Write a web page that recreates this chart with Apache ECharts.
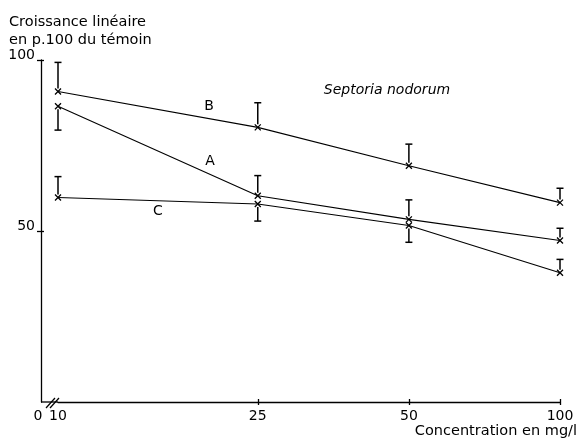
<!DOCTYPE html>
<html>
<head>
<meta charset="utf-8">
<script src="https://cdn.jsdelivr.net/npm/echarts@6/dist/echarts.min.js"></script>
<style>html,body{margin:0;padding:0;background:#fff}#c{width:579px;height:438px}</style>
</head>
<body>
<div id="c"></div>
<script>
// Data
var concentrations = [10, 25, 50, 100];
var xTickLabels = [10, 25, 50, 100];
var yTickLabels = [50, 100];
var seriesA = [86.5, 60.3, 53.4, 47.2];
var seriesB = [90.8, 80.3, 69.1, 58.3];
var seriesC = [59.8, 57.9, 51.6, 37.8];
// error bar end values (other end is the point itself)
var errA = [79.5, 66.2, 59.1, 50.8];
var errB = [99.3, 87.5, 75.4, 62.5];
var errC = [65.9, 52.9, 46.7, 41.7];

var FONT = 'DejaVu Sans';
var chart = echarts.init(document.getElementById('c'), null, {renderer: 'canvas'});

function pts(vals) { return concentrations.map(function (x, i) { return [x, vals[i]]; }); }
function errs(vals, ends) { return concentrations.map(function (x, i) { return [x, vals[i], ends[i]]; }); }

var cross = 'path://M0,0L10,10M10,0L0,10';

function lineSeries(name, vals) {
  return {
    name: name, type: 'line', data: pts(vals),
    symbol: cross, symbolSize: 6,
    itemStyle: {color: '#000', borderColor: '#000', borderWidth: 1.3},
    lineStyle: {color: '#000', width: 1.1},
    z: 3, animation: false
  };
}

function errSeries(vals, ends) {
  return {
    type: 'custom', data: errs(vals, ends), animation: false, z: 2,
    renderItem: function (params, api) {
      var p0 = api.coord([api.value(0), api.value(1)]);
      var p1 = api.coord([api.value(0), api.value(2)]);
      var dir = p1[1] < p0[1] ? -1 : 1;
      var s = p0[1] + dir * 3;
      return {
        type: 'group',
        children: [
          {type: 'line', shape: {x1: p0[0], y1: s, x2: p1[0], y2: p1[1]}, style: {stroke: '#000', lineWidth: 1.5}},
          {type: 'line', shape: {x1: p1[0] - 3.5, y1: p1[1], x2: p1[0] + 3.5, y2: p1[1]}, style: {stroke: '#000', lineWidth: 1.5}}
        ]
      };
    }
  };
}

var axisLbl = {color: '#000', fontFamily: FONT, fontSize: 14};

var option = {
  backgroundColor: '#fff',
  animation: false,
  grid: {left: 58, right: 19, top: 60, bottom: 36},
  xAxis: [{
    type: 'log', logBase: 10, min: 10, max: 100,
    axisLine: {lineStyle: {color: '#000', width: 1.3}},
    axisTick: {show: true, length: 3, lineStyle: {color: '#000', width: 1.3}, customValues: [25, 50, 100]},
    axisLabel: Object.assign({margin: 7, customValues: xTickLabels}, axisLbl),
    splitLine: {show: false}, minorTick: {show: false}
  }, {
    type: 'log', logBase: 10, min: 10, max: 100, position: 'bottom',
    axisLine: {show: false},
    axisTick: {show: true, inside: true, length: 3, lineStyle: {color: '#000', width: 1.3}, customValues: [25, 50, 100]},
    axisLabel: {show: false}, splitLine: {show: false}
  }],
  yAxis: [{
    type: 'value', min: 0, max: 100, interval: 50, offset: 17,
    axisLine: {show: true, lineStyle: {color: '#000', width: 1.3}},
    axisTick: {show: true, length: 4, lineStyle: {color: '#000', width: 1.3}, customValues: yTickLabels},
    axisLabel: Object.assign({margin: 6, verticalAlign: 'bottom', lineHeight: 10, customValues: yTickLabels}, axisLbl),
    splitLine: {show: false}
  }, {
    type: 'value', min: 0, max: 100, interval: 50, offset: 17, position: 'left',
    axisLine: {show: false},
    axisTick: {show: true, inside: true, length: 3, lineStyle: {color: '#000', width: 1.3}, customValues: yTickLabels},
    axisLabel: {show: false}, splitLine: {show: false}
  }],
  series: [
    lineSeries('A', seriesA), lineSeries('B', seriesB), lineSeries('C', seriesC),
    errSeries(seriesA, errA), errSeries(seriesB, errB), errSeries(seriesC, errC)
  ],
  graphic: [
    {type: 'line', shape: {x1: 41, y1: 402, x2: 58, y2: 402}, style: {stroke: '#000', lineWidth: 1.3}},
    {type: 'line', shape: {x1: 46, y1: 408, x2: 55, y2: 398}, style: {stroke: '#000', lineWidth: 1.2}},
    {type: 'line', shape: {x1: 50, y1: 408, x2: 59, y2: 398}, style: {stroke: '#000', lineWidth: 1.2}},
    {type: 'text', x: 38, y: 416, style: {text: '0', font: '14px ' + FONT, fill: '#000', align: 'center', verticalAlign: 'middle'}},
    {type: 'text', x: 9, y: 13, style: {text: 'Croissance linéaire\nen p.100 du témoin', font: '14.5px ' + FONT, lineHeight: 18, fill: '#000'}},
    {type: 'text', x: 577, y: 431, style: {text: 'Concentration en mg/l', font: '14.5px ' + FONT, fill: '#000', align: 'right', verticalAlign: 'middle'}},
    {type: 'text', x: 387, y: 90, style: {text: 'Septoria nodorum', font: 'italic 14px ' + FONT, fill: '#000', align: 'center', verticalAlign: 'middle'}},
    {type: 'text', x: 209, y: 106, style: {text: 'B', font: '14px ' + FONT, fill: '#000', align: 'center', verticalAlign: 'middle'}},
    {type: 'text', x: 210, y: 161, style: {text: 'A', font: '14px ' + FONT, fill: '#000', align: 'center', verticalAlign: 'middle'}},
    {type: 'text', x: 158, y: 211, style: {text: 'C', font: '14px ' + FONT, fill: '#000', align: 'center', verticalAlign: 'middle'}}
  ]
};
chart.setOption(option);
</script>
</body>
</html>
